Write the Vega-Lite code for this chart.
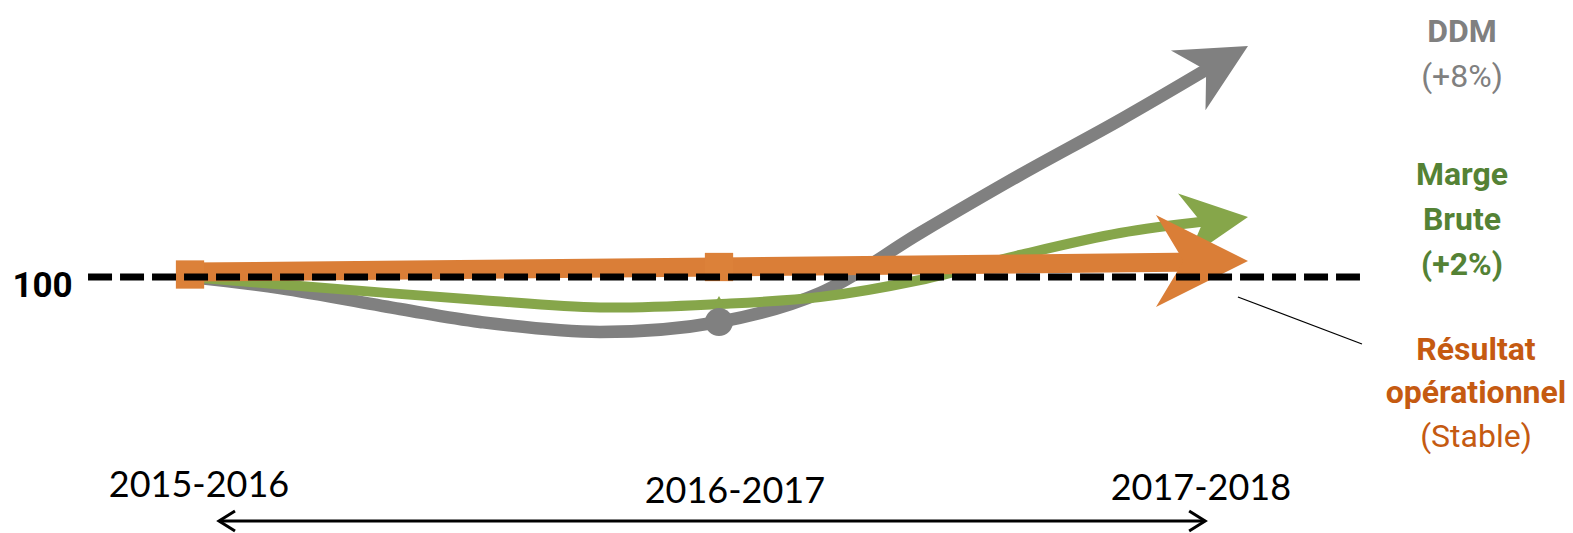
{
  "$schema": "https://vega.github.io/schema/vega-lite/v6.json",
  "width": 1573,
  "height": 533,
  "padding": 0,
  "autosize": {"type": "none"},
  "background": "white",
  "config": {"view": {"stroke": null}},
  "datasets": {
    "lines": [
      {"series": "DDM", "t": 0, "v": 100},
      {"series": "DDM", "t": 0.170, "v": 99.621},
      {"series": "DDM", "t": 0.397, "v": 98.897},
      {"series": "DDM", "t": 0.548, "v": 98.448},
      {"series": "DDM", "t": 0.775, "v": 98.103},
      {"series": "DDM", "t": 1, "v": 98.448},
      {"series": "DDM", "t": 1.191, "v": 99.448},
      {"series": "DDM", "t": 1.380, "v": 101.517},
      {"series": "DDM", "t": 1.569, "v": 103.517},
      {"series": "DDM", "t": 1.758, "v": 105.414},
      {"series": "DDM", "t": 1.926, "v": 107.2},
      {"series": "Marge Brute", "t": 0, "v": 100},
      {"series": "Marge Brute", "t": 0.208, "v": 99.69},
      {"series": "Marge Brute", "t": 0.548, "v": 99.207},
      {"series": "Marge Brute", "t": 0.775, "v": 98.95},
      {"series": "Marge Brute", "t": 1, "v": 99.069},
      {"series": "Marge Brute", "t": 1.191, "v": 99.310},
      {"series": "Marge Brute", "t": 1.380, "v": 99.897},
      {"series": "Marge Brute", "t": 1.569, "v": 100.759},
      {"series": "Marge Brute", "t": 1.758, "v": 101.517},
      {"series": "Marge Brute", "t": 1.924, "v": 101.931},
      {"series": "Résultat opérationnel", "t": 0, "v": 100.172},
      {"series": "Résultat opérationnel", "t": 1, "v": 100.345},
      {"series": "Résultat opérationnel", "t": 1.909, "v": 100.517}
    ],
    "markers": [
      {"series": "Résultat opérationnel", "t": 0, "v": 100.086},
      {"series": "Résultat opérationnel", "t": 1, "v": 100.345},
      {"series": "DDM", "t": 1, "v": 98.448},
      {"series": "Marge Brute", "t": 1, "v": 99.2}
    ],
    "arrows": [
      {"series": "DDM", "t": 2, "v": 107.966, "direction": 330},
      {"series": "Marge Brute", "t": 2, "v": 102.069, "direction": 352},
      {"series": "Résultat opérationnel", "t": 2, "v": 100.552, "direction": 0}
    ],
    "labels": [
      {"series": "DDM", "text": "DDM", "kind": "name", "t": 2.4045, "v": 108.103},
      {"series": "DDM", "text": "(+8%)", "kind": "change", "t": 2.4045, "v": 106.552},
      {"series": "Marge Brute", "text": "Marge", "kind": "name", "t": 2.4045, "v": 103.172},
      {"series": "Marge Brute", "text": "Brute", "kind": "name", "t": 2.4045, "v": 101.621},
      {"series": "Marge Brute", "text": "(+2%)", "kind": "change", "t": 2.4045, "v": 100.069},
      {"series": "Résultat opérationnel", "text": "Résultat", "kind": "name", "t": 2.431, "v": 97.138},
      {"series": "Résultat opérationnel", "text": "opérationnel", "kind": "name", "t": 2.431, "v": 95.655},
      {"series": "Résultat opérationnel", "text": "(Stable)", "kind": "change", "t": 2.431, "v": 94.138}
    ],
    "periods": [
      {"label": "2015-2016", "t": 0.017, "v": 92.414},
      {"label": "2016-2017", "t": 1.030, "v": 92.207},
      {"label": "2017-2018", "t": 1.911, "v": 92.31}
    ]
  },
  "encoding": {
    "x": {"field": "t", "type": "quantitative", "scale": {"domain": [-0.3592, 2.6144], "nice": false, "zero": false}, "axis": null},
    "y": {"field": "v", "type": "quantitative", "scale": {"domain": [91.1724, 109.5517], "nice": false, "zero": false}, "axis": null}
  },
  "layer": [
    {
      "data": {"name": "lines"},
      "transform": [{"filter": "datum.series === 'DDM'"}],
      "mark": {"type": "line", "interpolate": "catmull-rom", "strokeWidth": 12.5, "strokeCap": "butt"},
      "encoding": {"color": {"field": "series", "type": "nominal", "scale": {"domain": ["DDM", "Marge Brute", "Résultat opérationnel"], "range": ["#808080", "#86A64A", "#DA7E37"]}, "legend": null}}
    },
    {
      "data": {"name": "lines"},
      "transform": [{"filter": "datum.series === 'Marge Brute'"}],
      "mark": {"type": "line", "interpolate": "catmull-rom", "strokeWidth": 10, "strokeCap": "butt"},
      "encoding": {"color": {"field": "series", "type": "nominal", "legend": null}}
    },
    {
      "data": {"name": "markers"},
      "transform": [{"filter": "datum.series === 'DDM'"}],
      "mark": {"type": "point", "shape": "circle", "filled": true, "opacity": 1, "size": 784},
      "encoding": {"color": {"field": "series", "type": "nominal", "legend": null}}
    },
    {
      "data": {"name": "markers"},
      "transform": [{"filter": "datum.series === 'Marge Brute'"}],
      "mark": {"type": "point", "shape": "triangle-up", "filled": true, "opacity": 1, "size": 90},
      "encoding": {"color": {"field": "series", "type": "nominal", "legend": null}}
    },
    {
      "data": {"name": "lines"},
      "transform": [{"filter": "datum.series === 'Résultat opérationnel'"}],
      "mark": {"type": "line", "interpolate": "linear", "strokeWidth": 19, "strokeCap": "butt"},
      "encoding": {"color": {"field": "series", "type": "nominal", "legend": null}}
    },
    {
      "data": {"name": "markers"},
      "transform": [{"filter": "datum.series === 'Résultat opérationnel'"}],
      "mark": {"type": "point", "shape": "square", "filled": true, "opacity": 1, "size": 800, "color": "#DC8139"}
    },
    {
      "data": {"name": "arrows"},
      "transform": [{"filter": "datum.series === 'DDM'"}],
      "mark": {"type": "point", "shape": "M 0 0 L -2 -1 L -1.4 0 L -2 1 Z", "filled": true, "opacity": 1, "strokeWidth": 0, "size": 4761},
      "encoding": {
        "color": {"field": "series", "type": "nominal", "legend": null},
        "angle": {"field": "direction", "type": "quantitative", "scale": null}
      }
    },
    {
      "data": {"name": "arrows"},
      "transform": [{"filter": "datum.series === 'Marge Brute'"}],
      "mark": {"type": "point", "shape": "M 0 0 L -2 -1 L -1.4 0 L -2 1 Z", "filled": true, "opacity": 1, "strokeWidth": 0, "size": 4356},
      "encoding": {
        "color": {"field": "series", "type": "nominal", "legend": null},
        "angle": {"field": "direction", "type": "quantitative", "scale": null}
      }
    },
    {
      "data": {"name": "arrows"},
      "transform": [{"filter": "datum.series === 'Résultat opérationnel'"}],
      "mark": {"type": "point", "shape": "M 0 0 L -2 -1 L -1.4 0 L -2 1 Z", "filled": true, "opacity": 1, "strokeWidth": 0, "size": 8464},
      "encoding": {
        "color": {"field": "series", "type": "nominal", "legend": null},
        "angle": {"field": "direction", "type": "quantitative", "scale": null}
      }
    },
    {
      "data": {"values": [{"t": -0.1928, "t2": 2.2117, "v": 100}]},
      "mark": {"type": "rule", "color": "black", "strokeWidth": 7, "strokeDash": [24, 8], "strokeCap": "butt"},
      "encoding": {"x2": {"field": "t2"}}
    },
    {
      "data": {"values": [{"t": 1.981, "t2": 2.2155, "v": 99.31, "v2": 97.69}]},
      "mark": {"type": "rule", "color": "black", "strokeWidth": 1.3},
      "encoding": {"x2": {"field": "t2"}, "y2": {"field": "v2"}}
    },
    {
      "data": {"values": [{"t": 0.0548, "t2": 1.919, "v": 91.586}]},
      "mark": {"type": "rule", "color": "black", "strokeWidth": 3},
      "encoding": {"x2": {"field": "t2"}}
    },
    {
      "data": {"values": [{"t": 0.0548, "v": 91.586, "direction": 180}, {"t": 1.919, "v": 91.586, "direction": 0}]},
      "mark": {"type": "point", "shape": "M -1.6 -1 L 0 0 L -1.6 1", "filled": false, "opacity": 1, "color": "black", "strokeWidth": 3, "size": 400},
      "encoding": {"angle": {"field": "direction", "type": "quantitative", "scale": null}}
    },
    {
      "data": {"values": [{"text": "100", "t": -0.2788, "v": 99.31}]},
      "mark": {"type": "text", "font": "Roboto", "fontWeight": "bold", "fontSize": 35, "align": "center", "baseline": "alphabetic", "color": "black"},
      "encoding": {"text": {"field": "text"}}
    },
    {
      "data": {"name": "periods"},
      "mark": {"type": "text", "font": "Lato", "fontSize": 36, "align": "center", "baseline": "alphabetic", "color": "black"},
      "encoding": {"text": {"field": "label"}}
    },
    {
      "data": {"name": "labels"},
      "transform": [{"filter": "datum.series === 'DDM' && datum.kind === 'name'"}],
      "mark": {"type": "text", "font": "Roboto", "fontWeight": "bold", "fontSize": 32, "align": "center", "baseline": "alphabetic", "color": "#808080"},
      "encoding": {"text": {"field": "text"}}
    },
    {
      "data": {"name": "labels"},
      "transform": [{"filter": "datum.series === 'DDM' && datum.kind === 'change'"}],
      "mark": {"type": "text", "font": "Roboto", "fontSize": 32, "align": "center", "baseline": "alphabetic", "color": "#808080"},
      "encoding": {"text": {"field": "text"}}
    },
    {
      "data": {"name": "labels"},
      "transform": [{"filter": "datum.series === 'Marge Brute'"}],
      "mark": {"type": "text", "font": "Roboto", "fontWeight": "bold", "fontSize": 32, "align": "center", "baseline": "alphabetic", "color": "#548235"},
      "encoding": {"text": {"field": "text"}}
    },
    {
      "data": {"name": "labels"},
      "transform": [{"filter": "datum.series === 'Résultat opérationnel' && datum.kind === 'name'"}],
      "mark": {"type": "text", "font": "Roboto", "fontWeight": "bold", "fontSize": 32, "align": "center", "baseline": "alphabetic", "color": "#C55A11"},
      "encoding": {"text": {"field": "text"}}
    },
    {
      "data": {"name": "labels"},
      "transform": [{"filter": "datum.series === 'Résultat opérationnel' && datum.kind === 'change'"}],
      "mark": {"type": "text", "font": "Roboto", "fontSize": 32, "align": "center", "baseline": "alphabetic", "color": "#C55A11"},
      "encoding": {"text": {"field": "text"}}
    }
  ]
}
